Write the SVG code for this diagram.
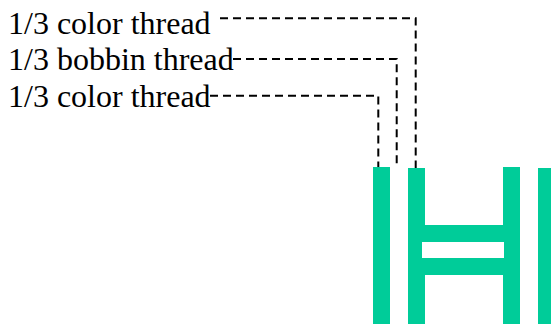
<svg xmlns="http://www.w3.org/2000/svg" width="551" height="324" viewBox="0 0 551 324">
  <style>
    .label { font-family: "Liberation Serif", "Times New Roman", serif; font-size: 32px; fill: #000; }
    .lead { fill: none; stroke: #000; stroke-width: 2; stroke-dasharray: 8 5; }
    .thread { fill: #00cc99; }
  </style>
  <rect width="551" height="324" fill="#fff"/>

  <!-- stitch: threads in green -->
  <g id="stitch">
    <rect class="thread" x="373" y="167" width="17" height="157"/>
    <rect class="thread" x="408" y="168" width="17" height="156"/>
    <rect class="thread" x="503" y="167" width="17" height="157"/>
    <rect class="thread" x="538" y="168" width="13" height="156"/>
    <rect class="thread" x="425" y="225" width="78" height="50"/>
    <rect x="422" y="242" width="82" height="16" fill="#fff"/>
  </g>

  <!-- labels -->
  <g id="label-color-top">
    <text class="label" x="8" y="33.5">1/3 color thread</text>
  </g>
  <g id="label-bobbin">
    <text class="label" x="8" y="70">1/3 bobbin thread</text>
  </g>
  <g id="label-color-bottom">
    <text class="label" x="8" y="106.5">1/3 color thread</text>
  </g>

  <!-- leader lines -->
  <g id="connectors">
    <path class="lead" d="M220,18.3 H415.7 V168"/>
    <path class="lead" d="M233,59 H396.7 V167"/>
    <path class="lead" d="M210,95.7 H378.3 V167"/>
  </g>
</svg>
